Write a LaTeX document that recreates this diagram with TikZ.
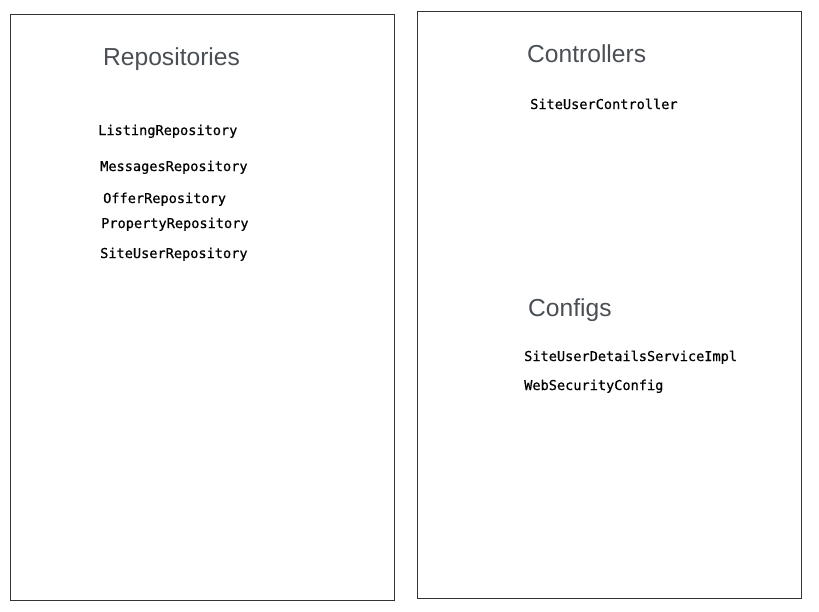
\documentclass[tikz,border=0pt]{standalone}
\usepackage{fontspec}
\setmainfont{Liberation Sans}
\newfontfamily\codefont[FakeBold=0.6]{DejaVu Sans Mono}
\definecolor{headgray}{HTML}{4A4F55}
\definecolor{framegray}{HTML}{333333}
\begin{document}
\begin{tikzpicture}[x=1pt,y=-1pt,
  panel/.style={draw=framegray,line width=1.4pt},
  heading/.style={anchor=base west,inner sep=0pt,text=headgray,font=\fontsize{24.6}{28}\selectfont},
  code/.style={anchor=base west,inner sep=0pt,text=black,font=\codefont\fontsize{13.6}{16}\selectfont}]
\useasboundingbox (0,0) rectangle (819,611);
\node[panel,minimum width=384pt,minimum height=586pt,anchor=north west,inner sep=0pt] (left) at (10,13.5) {};
\node[panel,minimum width=384pt,minimum height=587pt,anchor=north west,inner sep=0pt] (right) at (417,11) {};
\node[heading] (repos) at (103,65) {Repositories};
\node[code] (r1) at (98,135) {ListingRepository};
\node[code] (r2) at (100,171) {MessagesRepository};
\node[code] (r3) at (103,203) {OfferRepository};
\node[code] (r4) at (101,228) {PropertyRepository};
\node[code] (r5) at (100,258) {SiteUserRepository};
\node[heading] (ctrl) at (527,62) {Controllers};
\node[code] (c1) at (530,109) {SiteUserController};
\node[heading] (cfg) at (528,316) {Configs};
\node[code] (g1) at (524,361) {SiteUserDetailsServiceImpl};
\node[code] (g2) at (524,390) {WebSecurityConfig};
\end{tikzpicture}
\end{document}
